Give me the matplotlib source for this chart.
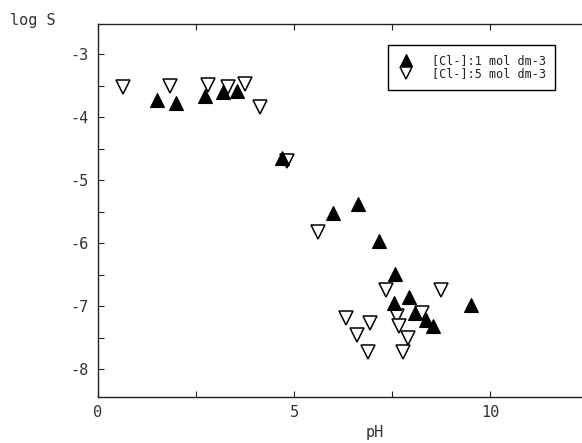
import matplotlib
matplotlib.use("Agg")
import matplotlib.pyplot as plt
from matplotlib.ticker import MultipleLocator, FixedLocator

# Data
ph_cl1 = [1.50, 1.99, 2.73, 3.18, 3.54, 4.69, 6.00, 6.64, 7.18, 7.58, 7.56, 7.94, 8.09, 8.38, 8.55, 9.53]
logs_cl1 = [-3.73, -3.78, -3.66, -3.60, -3.58, -4.65, -5.52, -5.38, -5.96, -6.48, -6.95, -6.86, -7.11, -7.22, -7.31, -6.98]

ph_cl5 = [0.65, 1.84, 2.81, 3.32, 3.75, 4.13, 4.81, 5.62, 6.34, 6.62, 6.90, 6.94, 7.35, 7.62, 7.69, 7.77, 7.92, 8.26, 8.74]
logs_cl5 = [-3.52, -3.51, -3.49, -3.52, -3.47, -3.84, -4.70, -5.82, -7.19, -7.46, -7.72, -7.27, -6.74, -7.16, -7.31, -7.72, -7.51, -7.10, -6.74]

label_cl1 = "[Cl-]:1 mol dm-3"
label_cl5 = "[Cl-]:5 mol dm-3"
x_ticks = [0, 5, 10]
y_ticks = [-3, -4, -5, -6, -7, -8]

plt.rcParams["font.family"] = ["DejaVu Sans Mono", "DejaVu Sans"]

W, H = 582, 443
fig = plt.figure(figsize=(W / 100, H / 100), dpi=100)
left, right, bottom, top = 98, 582, 397, 24
ax = fig.add_axes([left / W, 1 - bottom / H, (right - left) / W, (bottom - top) / H])

ax.plot(ph_cl5, logs_cl5, linestyle="none", marker="v", markersize=10.5,
        markerfacecolor="white", markeredgecolor="black", markeredgewidth=1.1,
        label=label_cl5, zorder=2)
ax.plot(ph_cl1, logs_cl1, linestyle="none", marker="^", markersize=10,
        markerfacecolor="black", markeredgecolor="black", markeredgewidth=0.8,
        label=label_cl1, zorder=3)

ax.set_xlim(0, 12.35)
ax.set_ylim(-8.44, -2.52)

ax.xaxis.set_major_locator(FixedLocator(x_ticks))
ax.xaxis.set_minor_locator(MultipleLocator(2.5))
ax.yaxis.set_major_locator(FixedLocator(y_ticks))
ax.yaxis.set_minor_locator(MultipleLocator(0.5))

ax.spines["right"].set_visible(False)
for s in ["left", "bottom", "top"]:
    ax.spines[s].set_linewidth(1.0)
    ax.spines[s].set_color("#222222")

ax.tick_params(axis="both", which="both", direction="in", length=4.5, width=0.8,
               colors="#222222", labelcolor="#333333", labelsize=11)
ax.tick_params(axis="x", which="both", top=True, bottom=True, pad=6)
ax.tick_params(axis="y", which="both", left=True, right=False, pad=7)

ax.set_xticklabels([str(t) for t in x_ticks])
ax.set_yticklabels(["-%d" % (-t) for t in y_ticks])

ax.set_xlabel("pH", fontsize=11, color="#333333")
ax.xaxis.set_label_coords((375 - left) / (right - left), (bottom - 433) / (bottom - top))
ax.xaxis.label.set_va("center")
fig.text(10 / W, 1 - 20 / H, "log S", fontsize=11, color="#333333", va="center", ha="left")

handles, labels = ax.get_legend_handles_labels()
leg = ax.legend(handles[::-1], labels[::-1], loc="upper right",
                bbox_to_anchor=(555 / W, 1 - 45 / H), bbox_transform=fig.transFigure,
                fancybox=False, framealpha=1, edgecolor="black",
                prop={"family": "DejaVu Sans Mono", "size": 8.5},
                markerscale=0.8, borderpad=0.8, handletextpad=1.4, labelspacing=0.0,
                handlelength=1.5, borderaxespad=0)
leg.get_frame().set_linewidth(1.0)
for t in leg.get_texts():
    t.set_color("#222222")

fig.savefig("out.png", dpi=100)
